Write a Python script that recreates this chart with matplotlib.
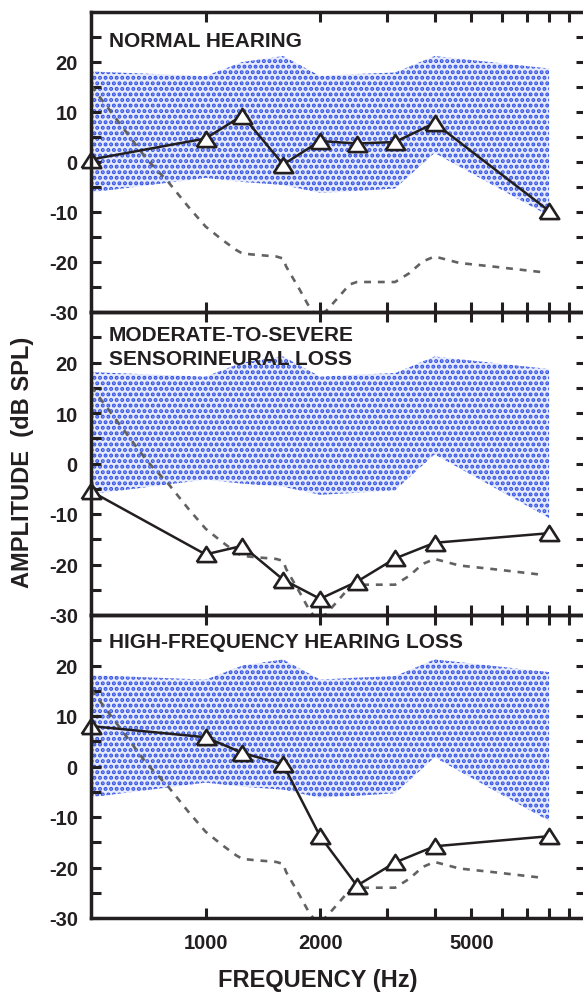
import numpy as np
import matplotlib
matplotlib.use("Agg")
import matplotlib.pyplot as plt
from matplotlib.ticker import NullLocator, FixedLocator, FixedFormatter

plt.rcParams['font.family'] = ['Liberation Sans', 'DejaVu Sans']
plt.rcParams['font.weight'] = 'bold'
plt.rcParams['axes.unicode_minus'] = False
plt.rcParams['hatch.linewidth'] = 2.0

# --- data ---
freqs = [500, 1000, 1250, 1600, 2000, 2500, 3150, 4000, 8000]

# normal range (stippled band)
band_upper = [18.1, 17.2, 20.0, 21.2, 17.2, 17.6, 17.9, 21.2, 18.7]
band_lower = [-6.1, -3.2, -4.0, -4.6, -6.2, -5.8, -5.3, 1.8, -10.8]

# dashed reference curve
dash_freqs = [500, 700, 800, 900, 1000, 1108, 1204, 1250, 1329, 1534, 1600,
              1629, 1767, 1858, 1960, 2075, 2250, 2390, 2500, 3150, 3438,
              3720, 4000, 4650, 5680, 7600]
dash_vals = [15.3, 0.6, -4.1, -8.9, -12.9, -15.6, -17.6, -18.3, -18.5, -18.9,
             -19.3, -20.9, -25.5, -28.5, -31.0, -29.8, -26.8, -24.5, -24.0,
             -24.0, -22.2, -19.9, -18.9, -20.2, -20.9, -22.0]

# measured spectra, one per panel
normal = [0.5, 4.7, 9.3, -0.5, 4.2, 3.7, 4.0, 7.8, -9.8]
moderate = [-5.5, -18.0, -16.3, -23.0, -26.8, -23.4, -18.8, -15.7, -13.8]
highfreq = [8.0, 5.8, 2.7, 0.4, -13.8, -23.6, -19.0, -15.8, -13.8]

panels = [
    (normal, ["NORMAL HEARING"]),
    (moderate, ["MODERATE-TO-SEVERE", "SENSORINEURAL LOSS"]),
    (highfreq, ["HIGH-FREQUENCY HEARING LOSS"]),
]

x_ticks = [1000, 2000, 3000, 4000, 5000, 6000, 7000, 8000, 9000]
x_labels = ["1000", "2000", "", "", "5000", "", "", "", ""]
y_major = [-30, -20, -10, 0, 10, 20]
y_minor = [-25, -15, -5, 5, 15, 25]

ink = '#231f20'
tri = [(-1, -0.78), (1, -0.78), (0, 0.78), (-1, -0.78)]

W, H = 583, 995
fig = plt.figure(figsize=(W / 100, H / 100), dpi=100)

left, right = 91, 586
bounds = [(13, 313), (313, 616), (616, 919)]

for i, ((vals, title), (top, bot)) in enumerate(zip(panels, bounds)):
    ax = fig.add_axes([left / W, 1 - bot / H, (right - left) / W, (bot - top) / H])
    ax.set_xscale('log')
    ax.set_xlim(500, 10000)
    ax.set_ylim(-30, 30)

    ax.fill_between(freqs, band_lower, band_upper, facecolor='#e6ebfc',
                    edgecolor='#3553e4', hatch='...', linewidth=0, zorder=1)
    ax.plot(dash_freqs, dash_vals, color='#626262', lw=1.9,
            dashes=[2.6, 2.6], zorder=2)
    ax.plot(freqs, vals, color=ink, lw=1.8, marker=tri, markersize=14,
            markerfacecolor='white', markeredgecolor=ink, markeredgewidth=1.9,
            zorder=3, clip_on=False)

    # panel titles
    trans = ax.get_yaxis_transform()
    if len(title) == 1:
        ax.text(0.036, 23.2 if i == 0 else 23.6, title[0], transform=trans,
                fontsize=15, color=ink, va='baseline', ha='left')
    else:
        ax.text(0.036, 24.4, title[0], transform=trans, fontsize=15,
                color=ink, va='baseline', ha='left')
        ax.text(0.036, 19.7, title[1], transform=trans, fontsize=15,
                color=ink, va='baseline', ha='left')

    ax.xaxis.set_major_locator(FixedLocator(x_ticks))
    ax.xaxis.set_minor_locator(NullLocator())
    if i == 2:
        ax.xaxis.set_major_formatter(FixedFormatter(x_labels))
    else:
        ax.xaxis.set_major_formatter(FixedFormatter([""] * len(x_ticks)))
    ax.set_yticks(y_major)
    ax.set_yticks(y_minor, minor=True)

    ax.tick_params(axis='both', which='both', direction='in', length=7.5,
                   width=2.2, color=ink, top=True, right=True)
    ax.tick_params(axis='y', labelsize=14.5, pad=9.5, labelcolor=ink)
    ax.tick_params(axis='x', labelsize=14.5, pad=10.5, labelcolor=ink)
    for s in ax.spines.values():
        s.set_linewidth(2.5)
        s.set_color(ink)
        s.set_zorder(4)
    ax.set_facecolor('none')

fig.text(318 / W, 1 - 981 / H, "FREQUENCY (Hz)", fontsize=17, color=ink,
         ha='center', va='center')
fig.text(23 / W, 1 - 462 / H, "AMPLITUDE  (dB SPL)", fontsize=17, color=ink,
         ha='center', va='center', rotation=90)

fig.savefig("out.png", dpi=100)
